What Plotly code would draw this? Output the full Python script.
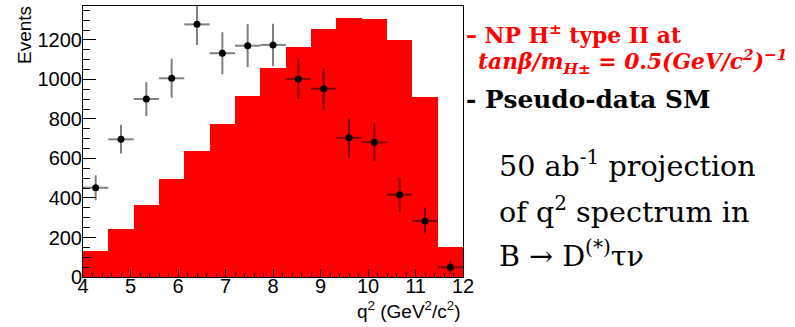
import plotly.graph_objects as go

# ---- data ----
q2_min, q2_max, n_bins = 4.0, 12.0, 15
np_h_typeII = [133, 243, 363, 496, 636, 775, 916, 1057, 1166, 1256, 1310, 1305, 1198, 913, 153]
pseudo_sm = [452, 697, 901, 1006, 1279, 1133, 1171, 1175, 1003, 953, 705, 682, 417, 284, 49]
pseudo_sm_err = [63, 72, 86, 99, 105, 106, 109, 107, 102, 105, 100, 97, 87, 68, 35]
x_ticks = [4, 5, 6, 7, 8, 9, 10, 11, 12]
y_ticks = [0, 200, 400, 600, 800, 1000, 1200]

bw = (q2_max - q2_min) / n_bins
centers = [q2_min + bw * (i + 0.5) for i in range(n_bins)]

W, H = 795, 327
L, R, T, B = 83, 463, 6, 277

fig = go.Figure()
fig.add_trace(go.Bar(x=centers, y=np_h_typeII, width=bw, marker=dict(color="#FF0000", line=dict(width=0)),
                     showlegend=False, hoverinfo="skip"))
fig.add_trace(go.Scatter(x=centers, y=pseudo_sm, mode="markers",
                         marker=dict(color="black", size=7, symbol="circle"),
                         error_y=dict(type="data", array=pseudo_sm_err, color="rgba(0,0,0,0.5)", thickness=2, width=0),
                         error_x=dict(type="constant", value=bw / 2, color="rgba(0,0,0,0.5)", thickness=2, width=0),
                         showlegend=False))

tick_font = dict(family="Liberation Sans, Arial, sans-serif", size=20, color="black")
fig.update_layout(
    width=W, height=H,
    margin=dict(l=L, r=W - R, t=T, b=H - B, pad=0),
    paper_bgcolor="white", plot_bgcolor="white",
    bargap=0,
    xaxis=dict(range=[q2_min, q2_max], tickvals=x_ticks, ticks="inside", ticklen=8, tickwidth=1,
               tickcolor="black", showline=True, linecolor="black", linewidth=1, mirror=True,
               showgrid=False, zeroline=False, tickfont=tick_font, ticklabelstandoff=-9,
               minor=dict(dtick=0.2, ticks="inside", ticklen=4, tickcolor="black", showgrid=False)),
    yaxis=dict(range=[0, 1372], tickvals=y_ticks, ticks="inside", ticklen=13, tickwidth=1,
               tickcolor="black", showline=True, linecolor="black", linewidth=1, mirror=True,
               showgrid=False, zeroline=False, tickfont=tick_font, ticklabelstandoff=-4,
               minor=dict(dtick=50, ticks="inside", ticklen=7, tickcolor="black", showgrid=False)),
)

def px_x(px):
    return (px - L) / (R - L)

def px_y(py):
    return (B - py) / (B - T)

ann = []
ann.append(dict(text="Events", xref="paper", yref="paper", x=px_x(24), y=px_y(4), xanchor="center", yanchor="top",
                textangle=-90, showarrow=False, font=dict(family="Liberation Sans, Arial, sans-serif", size=19, color="black")))
ann.append(dict(text="q<sup>2</sup> (GeV<sup>2</sup>/c<sup>2</sup>)", xref="paper", yref="paper", x=1.0, y=px_y(296),
                xanchor="right", yanchor="top", showarrow=False,
                font=dict(family="Liberation Sans, Arial, sans-serif", size=19, color="black")))

serif = "DejaVu Serif, serif"
ann.append(dict(text="<b>– NP H<sup>±</sup> type II at</b>", xref="paper", yref="paper", x=px_x(464), y=px_y(34),
                xanchor="left", yanchor="middle", showarrow=False, font=dict(family=serif, size=21.8, color="#FF0000")))
ann.append(dict(text="<b><i>tanβ/m<sub>H±</sub> = 0.5(GeV/c<sup>2</sup>)<sup>−1</sup></i></b>", xref="paper", yref="paper",
                x=px_x(476), y=px_y(62), xanchor="left", yanchor="middle", showarrow=False,
                font=dict(family=serif, size=21.8, color="#FF0000")))
ann.append(dict(text="<b>- Pseudo-data SM</b>", xref="paper", yref="paper", x=px_x(464), y=px_y(99),
                xanchor="left", yanchor="middle", showarrow=False, font=dict(family=serif, size=24.8, color="black")))
lines = ["50 ab<sup>-1</sup> projection", "of q<sup>2</sup> spectrum in", "B → D<sup>(*)</sup>τν"]
ys = [164, 210, 254]
for t, yy in zip(lines, ys):
    ann.append(dict(text=t, xref="paper", yref="paper", x=px_x(497), y=px_y(yy), xanchor="left", yanchor="middle",
                    showarrow=False, font=dict(family=serif, size=28.6, color="black")))
fig.update_layout(annotations=ann)

fig.write_html("out.html")
